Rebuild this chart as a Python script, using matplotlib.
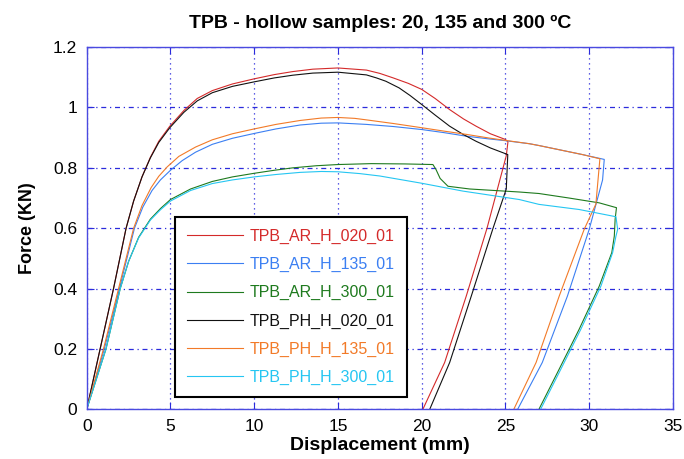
import matplotlib
matplotlib.use("Agg")
import matplotlib.pyplot as plt

plt.rcParams['font.family'] = ['Liberation Sans', 'DejaVu Sans']

# force-displacement curves (mm, kN)
ar020_x = [0, 0.8, 1.6, 2.35, 2.8, 3.3, 3.8, 4.3, 4.96, 5.8, 6.6, 7.5, 8.7, 10, 11.2, 12.3, 13.5, 15, 16.7,
           17.5, 18.3, 19.2, 20, 20.8, 21.67, 22.5, 23.25, 24.1, 25.0, 25.15, 25.05, 23.9, 22.66, 21.37, 20.07]
ar020_y = [0, 0.2, 0.4, 0.6, 0.69, 0.77, 0.835, 0.888, 0.938, 0.99, 1.03, 1.056, 1.078, 1.095, 1.109, 1.119, 1.127, 1.131, 1.124,
           1.113, 1.098, 1.08, 1.06, 1.03, 0.993, 0.962, 0.938, 0.913, 0.894, 0.886, 0.84, 0.60, 0.375, 0.155, 0]

ph020_x = [0, 0.8, 1.6, 2.35, 2.8, 3.3, 3.8, 4.3, 4.96, 5.8, 6.6, 7.5, 8.7, 10, 11.2, 12.3, 13.5, 15, 16.7,
           17.3, 17.86, 18.65, 19.3, 20, 20.8, 21.67, 22.5, 23.25, 24.1, 25.0, 25.14, 25.05, 24.26, 22.96, 21.67, 20.48]
ph020_y = [0, 0.2, 0.4, 0.6, 0.69, 0.77, 0.833, 0.884, 0.933, 0.984, 1.022, 1.049, 1.07, 1.085, 1.098, 1.107, 1.114, 1.117, 1.108,
           1.098, 1.087, 1.065, 1.04, 1.01, 0.975, 0.938, 0.91, 0.888, 0.866, 0.847, 0.844, 0.73, 0.60, 0.375, 0.155, 0]

ar135_x = [0, 1.05, 1.95, 2.85, 3.35, 3.9, 4.4, 5.0, 5.7, 6.5, 7.5, 8.7, 10, 11.3, 12.74, 14, 15, 16.7, 18.3, 20,
           21.3, 22.66, 24, 25, 26.43, 27.0, 28.3, 29.6, 30.9, 30.8, 30.0, 28.7, 27.2, 25.73]
ar135_y = [0, 0.2, 0.4, 0.6, 0.67, 0.725, 0.76, 0.792, 0.824, 0.852, 0.878, 0.898, 0.914, 0.929, 0.942, 0.948, 0.949, 0.944, 0.937, 0.927,
           0.917, 0.905, 0.896, 0.89, 0.88, 0.874, 0.859, 0.844, 0.828, 0.76, 0.596, 0.375, 0.155, 0]

ph135_x = [0, 1.0, 1.9, 2.8, 3.3, 3.85, 4.3, 4.8, 5.5, 6.5, 7.5, 8.7, 10, 11.3, 12.74, 14, 15, 16, 16.7, 18.3, 20,
           21.3, 22.66, 24, 25, 26.43, 27.0, 28.3, 29.6, 30.64, 30.4, 29.7, 28.21, 26.83, 25.5]
ph135_y = [0, 0.2, 0.4, 0.6, 0.675, 0.735, 0.772, 0.803, 0.838, 0.869, 0.893, 0.913, 0.929, 0.944, 0.957, 0.965, 0.967, 0.964, 0.959, 0.947, 0.933,
           0.922, 0.911, 0.899, 0.891, 0.88, 0.874, 0.859, 0.844, 0.83, 0.68, 0.596, 0.375, 0.155, 0]

ar300_x = [0, 1.15, 2.0, 2.5, 3.1, 3.8, 4.4, 5.0, 6.2, 7.5, 8.7, 10, 11.2, 12.3, 13.7, 15, 17, 19, 20.67, 20.85, 21.1, 21.57,
           22.86, 25.83, 27.0, 28.8, 30.6, 31.63, 31.55, 31.5, 31.35, 30.6, 29.4, 28.2, 27.0]
ar300_y = [0, 0.2, 0.4, 0.49, 0.57, 0.63, 0.665, 0.695, 0.73, 0.755, 0.77, 0.782, 0.792, 0.80, 0.807, 0.811, 0.814, 0.813, 0.811, 0.795, 0.765, 0.739,
           0.73, 0.72, 0.715, 0.70, 0.684, 0.668, 0.63, 0.574, 0.519, 0.408, 0.265, 0.132, 0]

ph300_x = [0, 1.15, 2.0, 2.5, 3.1, 3.8, 4.4, 5.0, 6.2, 7.5, 8.7, 10, 11.3, 12.74, 14, 15, 16.3, 17.5, 20, 22.46, 25.83,
           27.0, 29.4, 31.6, 31.7, 31.6, 31.4, 30.7, 29.5, 28.3, 27.1]
ph300_y = [0, 0.2, 0.4, 0.49, 0.568, 0.627, 0.661, 0.69, 0.725, 0.748, 0.76, 0.77, 0.778, 0.785, 0.788, 0.787, 0.781, 0.773, 0.749, 0.723, 0.695,
           0.679, 0.662, 0.638, 0.596, 0.574, 0.519, 0.408, 0.265, 0.132, 0]

labels = ['TPB_AR_H_020_01', 'TPB_AR_H_135_01', 'TPB_AR_H_300_01',
          'TPB_PH_H_020_01', 'TPB_PH_H_135_01', 'TPB_PH_H_300_01']
colors = ['#d42a2a', '#3b7ff2', '#1e7a1e', '#111111', '#f27a28', '#25c6f2']

series = [(ar020_x, ar020_y), (ar135_x, ar135_y), (ar300_x, ar300_y),
          (ph020_x, ph020_y), (ph135_x, ph135_y), (ph300_x, ph300_y)]

fig = plt.figure(figsize=(6.84, 4.59), dpi=100)
ax = fig.add_axes([0.1268, 0.1083, 0.857, 0.789])

for (xs, ys), c, lab in zip(series, colors, labels):
    ax.plot(xs, ys, color=c, linewidth=0.8, label=lab)

ax.set_xlim(0, 35)
ax.set_ylim(0, 1.2)
ax.set_xticks([0, 5, 10, 15, 20, 25, 30, 35])
ax.set_yticks([0, 0.2, 0.4, 0.6, 0.8, 1.0, 1.2])
ax.set_yticklabels(['0', '0.2', '0.4', '0.6', '0.8', '1', '1.2'])

blue = '#2b2bdc'
ax.xaxis.grid(True, color=blue, linestyle=(0, (1, 3)), linewidth=0.9)
ax.yaxis.grid(True, color=blue, linestyle=(0, (4, 3, 1, 3)), linewidth=0.9)
for s in ax.spines.values():
    s.set_color('#4a4ae0')
    s.set_linewidth(1.0)
ax.tick_params(direction='in', length=5, color=blue, top=True, right=True,
               labelsize=12.5, pad=7)

ax.set_title('TPB - hollow samples: 20, 135 and 300 ºC', fontsize=14,
             fontweight='bold', pad=14)
ax.set_xlabel('Displacement (mm)', fontsize=14, fontweight='bold', labelpad=2)
ax.set_ylabel('Force (KN)', fontsize=13, fontweight='bold', labelpad=12)

leg = ax.legend(loc='lower left', bbox_to_anchor=(0.1506, 0.034), borderaxespad=0,
                fontsize=11.5, fancybox=False, edgecolor='black', framealpha=1,
                handlelength=3.5, handletextpad=0.45, labelspacing=0.82, borderpad=0.75)
leg.get_frame().set_linewidth(1.5)
for t, c in zip(leg.get_texts(), colors):
    t.set_color(c)

fig.savefig('out.png', dpi=100)
